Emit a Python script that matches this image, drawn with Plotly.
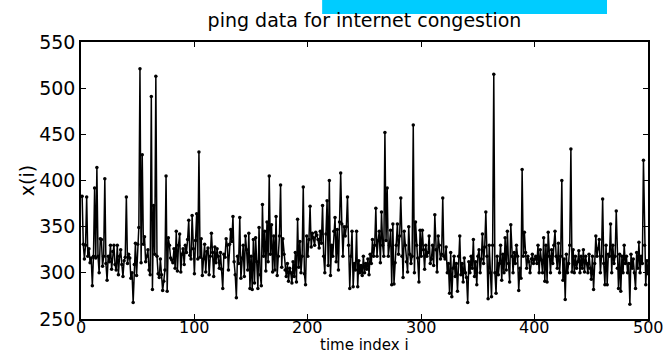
import plotly.graph_objects as go

title_text = "ping data for internet congestion"
x_label = "time index i"
y_label = "x(i)"
x_ticks = [0, 100, 200, 300, 400, 500]
y_ticks = [250, 300, 350, 400, 450, 500, 550]

ping = [
    383, 331, 315, 330, 382, 318, 326, 311, 316, 286, 318, 392, 316, 414, 318, 300, 337, 336, 307, 318,
    402, 310, 292, 318, 312, 330, 304, 323, 330, 309, 303, 330, 298, 318, 325, 309, 296, 313, 317, 382,
    310, 320, 316, 294, 300, 268, 309, 332, 297, 331, 349, 521, 311, 428, 331, 339, 312, 318, 325, 303,
    298, 491, 282, 373, 320, 513, 318, 299, 295, 315, 298, 281, 291, 303, 405, 280, 338, 330, 316, 314,
    311, 326, 305, 345, 302, 330, 342, 301, 320, 326, 309, 330, 322, 336, 357, 319, 315, 362, 326, 299,
    335, 364, 315, 431, 317, 337, 297, 315, 331, 301, 323, 327, 298, 318, 343, 322, 296, 328, 311, 326,
    318, 305, 322, 304, 283, 320, 317, 337, 330, 303, 331, 347, 334, 361, 312, 298, 273, 318, 310, 360,
    294, 316, 330, 296, 340, 325, 303, 343, 283, 318, 282, 336, 289, 338, 312, 283, 349, 298, 286, 374,
    318, 345, 302, 355, 312, 405, 320, 352, 301, 340, 303, 361, 297, 318, 340, 395, 306, 337, 320, 303,
    296, 310, 291, 305, 300, 289, 312, 296, 322, 290, 358, 306, 334, 300, 318, 393, 299, 287, 340, 318,
    336, 372, 328, 343, 338, 330, 344, 341, 336, 327, 345, 332, 373, 318, 300, 342, 378, 308, 400, 297,
    330, 318, 345, 360, 312, 347, 303, 355, 408, 353, 318, 350, 340, 350, 382, 330, 283, 318, 345, 285,
    310, 303, 345, 285, 313, 300, 308, 297, 318, 300, 310, 304, 315, 298, 320, 310, 336, 318, 330, 370,
    318, 335, 345, 311, 366, 330, 318, 452, 335, 392, 318, 330, 346, 287, 353, 288, 311, 330, 353, 320,
    340, 381, 318, 295, 345, 330, 312, 301, 350, 320, 310, 318, 460, 300, 355, 330, 316, 290, 346, 318,
    346, 325, 304, 330, 318, 322, 340, 310, 315, 330, 308, 363, 325, 301, 340, 330, 315, 320, 381, 318,
    315, 328, 300, 310, 278, 322, 274, 305, 318, 296, 310, 280, 318, 340, 298, 310, 290, 316, 300, 295,
    268, 312, 300, 318, 305, 336, 296, 312, 287, 318, 325, 300, 315, 342, 310, 328, 366, 318, 272, 330,
    300, 274, 330, 515, 300, 278, 318, 298, 310, 330, 292, 320, 300, 338, 303, 345, 310, 290, 352, 318,
    300, 322, 310, 330, 318, 281, 305, 294, 412, 318, 344, 322, 305, 318, 312, 300, 315, 320, 310, 315,
    318, 310, 330, 300, 325, 314, 300, 338, 291, 330, 290, 344, 318, 300, 325, 310, 330, 345, 318, 305,
    332, 300, 318, 400, 292, 315, 271, 320, 300, 310, 330, 434, 301, 325, 300, 318, 305, 312, 324, 300,
    318, 305, 325, 301, 318, 310, 300, 320, 305, 293, 318, 282, 310, 340, 318, 326, 336, 300, 318, 380,
    310, 287, 330, 287, 320, 318, 353, 300, 330, 310, 318, 367, 305, 283, 320, 280, 318, 300, 330, 310,
    318, 300, 310, 266, 320, 305, 315, 300, 283, 322, 305, 333, 300, 318, 310, 422, 330, 287, 313, 299,
]
time_index = list(range(1, len(ping) + 1))

FONT = "DejaVu Sans"
FS = 19
PLOT_TOP, PLOT_BOTTOM = 42, 319
PLOT_H = PLOT_BOTTOM - PLOT_TOP

fig = go.Figure()
fig.add_trace(go.Scatter(
    x=time_index, y=ping, mode="lines+markers",
    line=dict(color="black", width=1.5),
    marker=dict(color="black", size=3.5, symbol="circle"),
    showlegend=False, hoverinfo="skip",
))

# cyan band at the top edge of the figure
fig.add_shape(type="rect", xref="paper", yref="paper",
              x0=0.4253, x1=0.9277, y0=1.101, y1=1.16,
              fillcolor="#00CCFF", line=dict(width=0), layer="above")

# x tick labels, set tight under the axis (positioned by the x axis scale)
for v in x_ticks:
    fig.add_annotation(text=str(v), xref="x", yref="paper",
                       x=v, y=(PLOT_BOTTOM - 327.5) / PLOT_H,
                       xanchor="center", yanchor="middle", showarrow=False,
                       borderpad=0,
                       font=dict(family=FONT, size=16, color="black"))

# x-axis title placed just below the tick labels
fig.add_annotation(text=x_label, xref="paper", yref="paper",
                   x=0.5, y=(PLOT_BOTTOM - 344.5) / PLOT_H,
                   xanchor="center", yanchor="middle", showarrow=False,
                   borderpad=0,
                   font=dict(family=FONT, size=15, color="black"))

axis_common = dict(
    showline=True, linecolor="black", linewidth=1.5, mirror="ticks",
    ticks="inside", ticklen=5, tickwidth=1, tickcolor="black",
    showgrid=False, zeroline=False, automargin=False,
    ticklabeloverflow="allow",
)

fig.update_layout(
    width=666, height=353,
    margin=dict(l=81, r=18, t=PLOT_TOP, b=353 - PLOT_BOTTOM, autoexpand=False),
    paper_bgcolor="white", plot_bgcolor="white",
    title=dict(text=title_text, x=0.5, xref="paper", xanchor="center",
               y=1 - 20 / 353, yref="container", yanchor="middle",
               font=dict(family=FONT, size=FS, color="black")),
    xaxis=dict(range=[0, 500], tickvals=x_ticks, showticklabels=False,
               **axis_common),
    yaxis=dict(range=[250, 550], tickvals=y_ticks, ticklabelstandoff=0,
               tickfont=dict(family=FONT, size=FS, color="black"),
               title=dict(text=y_label, standoff=0,
                          font=dict(family=FONT, size=FS, color="black")),
               **axis_common),
)

fig.write_html("out.html")
